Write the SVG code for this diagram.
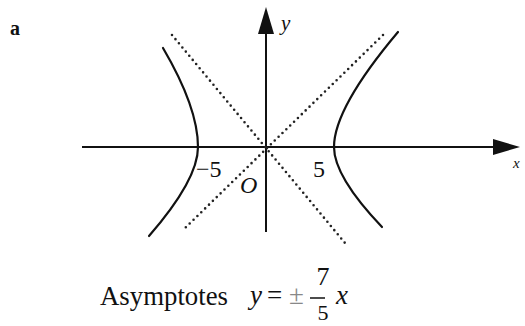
<svg xmlns="http://www.w3.org/2000/svg" width="525" height="326" viewBox="0 0 525 326">
<style>
.ax{stroke:#111;stroke-width:2;fill:none}
.cv{stroke:#111;stroke-width:2.2;fill:none;stroke-linecap:round}
.dt{stroke:#222;stroke-width:2.6;fill:none;stroke-linecap:round;stroke-dasharray:0 5.4}
text{font-family:'Liberation Serif','Times New Roman',serif;fill:#111}
.i{font-style:italic}
</style>
<rect width="525" height="326" fill="#fff"/>
<text font-family="Liberation Serif, serif" x="10" y="35" font-size="20" font-weight="bold">a</text>
<g id="axes">
<line class="ax" x1="82" y1="147" x2="496" y2="147"/>
<polygon points="520,147 493,139 493,155" fill="#111"/>
<line class="ax" x1="266" y1="232" x2="266" y2="30"/>
<polygon points="266,7 258,34 274,34" fill="#111"/>
</g>
<g id="asymptotes">
<line class="dt" x1="172" y1="35" x2="345" y2="243"/>
<line class="dt" x1="383" y1="35" x2="183" y2="230"/>
</g>
<g id="hyperbola">
<path class="cv" d="M398,32 Q334,108 334,147 Q334,176.6 382,227"/>
<path class="cv" d="M163,48 Q198,107.6 198,147 Q198,179.7 149,236"/>
</g>
<g id="labels" font-family="Liberation Serif, serif" font-size="24">
<text class="i" x="281" y="30" font-size="21">y</text>
<text class="i" x="513" y="168" font-size="15">x</text>
<text x="196" y="177">−5</text>
<text x="313" y="177">5</text>
<text class="i" x="240" y="193">O</text>
</g>
<g id="caption" font-family="Liberation Serif, serif" font-size="27">
<text x="100" y="305" textLength="128" lengthAdjust="spacingAndGlyphs">Asymptotes</text>
<text class="i" x="250" y="304">y</text>
<text x="267" y="304">=</text>
<text x="289" y="304" style="fill:#888">±</text>
<line x1="310" y1="298" x2="325" y2="298" stroke="#111" stroke-width="1.5"/>
<text x="323" y="285" font-size="26" text-anchor="middle">7</text>
<text x="323" y="320" font-size="22" text-anchor="middle">5</text>
<text class="i" x="336" y="304">x</text>
</g>
</svg>
